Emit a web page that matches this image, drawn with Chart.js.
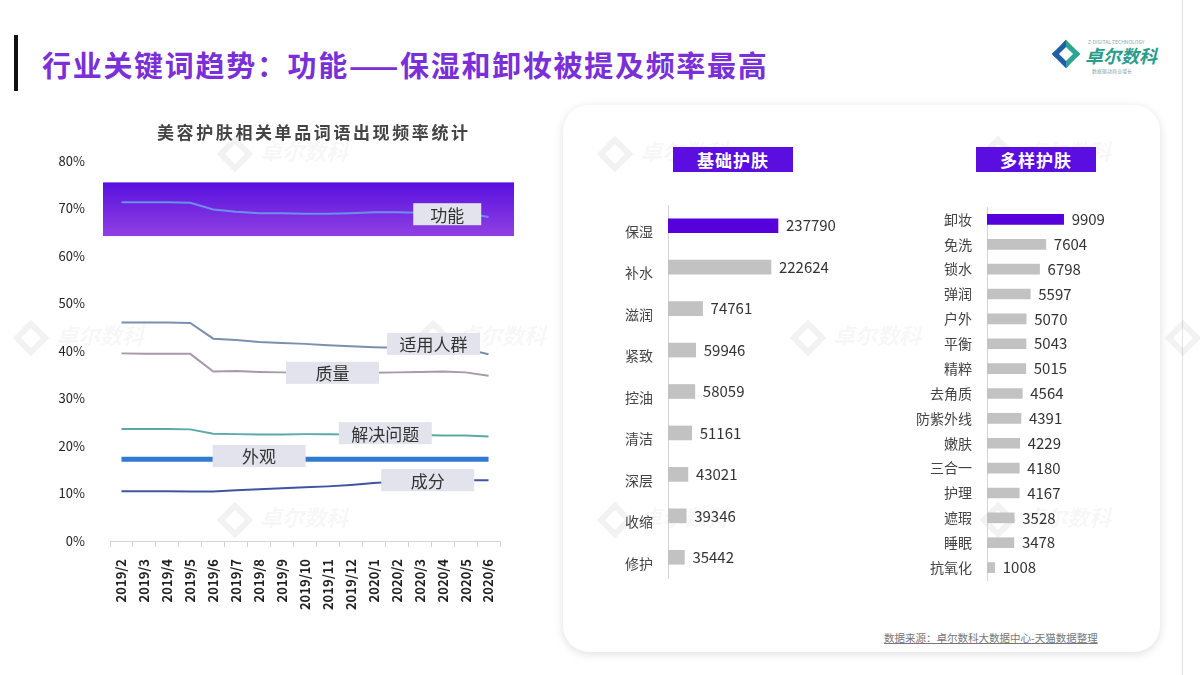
<!DOCTYPE html>
<html>
<head>
<meta charset="utf-8">
<script src="https://cdn.jsdelivr.net/npm/chart.js@4"></script>
<style>
  html, body { margin: 0; padding: 0; background: #fff; }
  body { width: 1200px; height: 675px; position: relative; overflow: hidden;
         font-family: 'Noto Sans CJK SC', sans-serif; }
  .abs { position: absolute; }
  #leftBar { left: 14px; top: 35px; width: 4px; height: 56px; background: #111; }
  #title { left: 42px; top: 44px; font-size: 29px; font-weight: 700; color: #7a2fd8;
           letter-spacing: 1.7px; white-space: nowrap; line-height: 40px; }
  #subTitle { left: 157px; top: 121px; font-size: 17px; font-weight: 700; color: #444;
              letter-spacing: 2.6px; white-space: nowrap; line-height: 22px; z-index: 4; }
  #rightLine { left: 1182px; top: 0; width: 1px; height: 675px; background: #e2e2e2; }
  #card { left: 563px; top: 105px; width: 597px; height: 547px; border-radius: 26px;
          background: #fff; box-shadow: 0 2px 10px rgba(0,0,0,0.13); z-index: 1; }
  .head { width: 120px; height: 25px; background: #5a0fe0; color: #fff; font-size: 17px;
          font-weight: 700; text-align: center; line-height: 25px; z-index: 4; letter-spacing: 1px; }
  .wm { color: rgba(0,0,0,0.055); font-size: 22px; font-weight: 700; font-style: italic;
        z-index: 2; white-space: nowrap; }
  .wm span { display: inline-block; width: 26px; height: 26px; border: 6px solid rgba(0,0,0,0.05);
             transform: rotate(45deg); margin-right: 12px; vertical-align: middle; box-sizing: border-box; }
  #src { left: 884px; top: 630px; font-size: 10.5px; color: #777; text-decoration: underline;
         z-index: 4; white-space: nowrap; }
  #logo { left: 1050px; top: 36px; width: 115px; height: 40px; }
  #logo .txt { position: absolute; left: 35px; top: 8px; font-size: 18px; font-weight: 700;
               font-style: italic; color: #2a9c8c; white-space: nowrap; line-height: 22px; }
  #logo .sm1 { position: absolute; left: 38px; top: 2px; font-size: 5px; color: #8aa; white-space: nowrap; }
  #logo .sm2 { position: absolute; left: 42px; top: 31px; font-size: 5px; color: #8aa; white-space: nowrap; }
  #logo .ic { position: absolute; left: 6px; top: 8px; width: 20px; height: 20px;
              border: 5px solid #1f5fa8; border-right-color: #2aa58f; border-top-color: #2aa58f;
              transform: rotate(45deg); box-sizing: border-box; }
  #c1 { left: 30px; top: 110px; z-index: 3; }
  #c2 { left: 580px; top: 195px; z-index: 3; }
  #c3 { left: 880px; top: 197px; z-index: 3; }
</style>
</head>
<body>
<div id="leftBar" class="abs"></div>
<div id="title" class="abs">行业关键词趋势：功能——保湿和卸妆被提及频率最高</div>
<div id="rightLine" class="abs"></div>
<div id="logo" class="abs"><div class="ic"></div><div class="sm1">Z-DIGITAL TECHNOLOGY</div><div class="txt">卓尔数科</div><div class="sm2">数据驱动商业增长</div></div>
<div id="card" class="abs"></div>

<div class="abs wm" style="left:222px;top:134px"><span></span>卓尔数科</div>
<div class="abs wm" style="left:18px;top:318px"><span></span>卓尔数科</div>
<div class="abs wm" style="left:420px;top:318px"><span></span>卓尔数科</div>
<div class="abs wm" style="left:222px;top:500px"><span></span>卓尔数科</div>
<div class="abs wm" style="left:602px;top:134px"><span></span>卓尔数科</div>
<div class="abs wm" style="left:795px;top:318px"><span></span>卓尔数科</div>
<div class="abs wm" style="left:985px;top:134px"><span></span>卓尔数科</div>
<div class="abs wm" style="left:602px;top:500px"><span></span>卓尔数科</div>
<div class="abs wm" style="left:985px;top:500px"><span></span>卓尔数科</div>
<div class="abs wm" style="left:1170px;top:318px"><span></span>卓尔数科</div>

<div id="subTitle" class="abs">美容护肤相关单品词语出现频率统计</div>
<div class="abs head" style="left:673px;top:147px">基础护肤</div>
<div class="abs head" style="left:976px;top:147px">多样护肤</div>
<div id="src" class="abs">数据来源：卓尔数科大数据中心-天猫数据整理</div>

<canvas id="c1" class="abs" width="530" height="530" style="width:530px;height:530px"></canvas>
<canvas id="c2" class="abs" width="280" height="395" style="width:280px;height:395px"></canvas>
<canvas id="c3" class="abs" width="270" height="395" style="width:270px;height:395px"></canvas>

<script>
// ---- trend data (percent) ----
const months = ['2019/2','2019/3','2019/4','2019/5','2019/6','2019/7','2019/8','2019/9','2019/10',
                '2019/11','2019/12','2020/1','2020/2','2020/3','2020/4','2020/5','2020/6'];
const gongneng  = [71.3,71.3,71.3,71.2,69.8,69.3,69.0,69.0,68.9,68.9,69.0,69.2,69.2,69.1,69.0,69.0,68.2];
const shiyong   = [46.0,46.0,46.0,45.9,42.6,42.3,41.9,41.7,41.5,41.2,41.0,40.8,40.7,40.6,40.5,40.4,39.3];
const zhiliang  = [39.5,39.4,39.4,39.4,35.7,35.8,35.6,35.5,35.5,35.5,35.4,35.4,35.5,35.6,35.7,35.5,34.8];
const jiejue    = [23.6,23.6,23.6,23.5,22.6,22.5,22.4,22.4,22.5,22.5,22.4,22.4,22.3,22.3,22.2,22.2,22.0];
const waiguan   = [17.2,17.2,17.2,17.2,17.2,17.2,17.2,17.2,17.2,17.2,17.2,17.2,17.2,17.2,17.2,17.2,17.2];
const chengfen  = [10.5,10.5,10.5,10.4,10.4,10.7,10.9,11.1,11.3,11.5,11.8,12.2,12.5,12.6,12.7,12.8,12.8];
const yTicks = [0,10,20,30,40,50,60,70,80];

// ---- keyword counts ----
const basicNames  = ['保湿','补水','滋润','紧致','控油','清洁','深层','收缩','修护'];
const basicCounts = [237790,222624,74761,59946,58059,51161,43021,39346,35442];
const multiNames  = ['卸妆','免洗','锁水','弹润','户外','平衡','精粹','去角质','防紫外线','嫩肤','三合一','护理','遮瑕','睡眠','抗氧化'];
const multiCounts = [9909,7604,6798,5597,5070,5043,5015,4564,4391,4229,4180,4167,3528,3478,1008];

// series name tags on the trend chart: [category index, value, box width]
const tagNames = ['功能','适用人群','质量','解决问题','外观','成分'];
const tagAt    = [[14.2,68.8,68],[13.6,41.5,93],[9.2,35.4,93],[11.5,22.7,93],[6.0,17.9,93],[13.35,12.8,93]];

Chart.defaults.font.family = "'Noto Sans CJK SC', sans-serif";
Chart.defaults.color = '#222';

const noEdgePad = s => { s.paddingTop = 0; s.paddingBottom = 0; };

const bandPlugin = {
  id: 'band',
  beforeDatasetsDraw(chart) {
    const { ctx, chartArea, scales } = chart;
    const top = scales.y.getPixelForValue(75.5), bot = scales.y.getPixelForValue(64.2);
    const g = ctx.createLinearGradient(0, top, 0, bot);
    g.addColorStop(0, '#5810de');
    g.addColorStop(1, '#9040e2');
    ctx.save();
    ctx.fillStyle = g;
    ctx.fillRect(chartArea.left - 7, top, chartArea.right - chartArea.left + 21, bot - top);
    ctx.restore();
  }
};

const tagPlugin = {
  id: 'tags',
  afterDatasetsDraw(chart) {
    const { ctx, scales } = chart;
    ctx.save();
    ctx.font = "17px 'Noto Sans CJK SC', sans-serif";
    ctx.textAlign = 'center';
    ctx.textBaseline = 'middle';
    tagNames.forEach((n, i) => {
      const [ix, v, w] = tagAt[i];
      const x = scales.x.getPixelForValue(ix), y = scales.y.getPixelForValue(v);
      ctx.fillStyle = '#e3e3ed';
      ctx.fillRect(x - w / 2, y - 11, w, 22);
      ctx.fillStyle = '#333';
      ctx.fillText(n, x, y + 1);
    });
    ctx.restore();
  }
};

const line = (data, color, w) => ({ data, borderColor: color, borderWidth: w, pointRadius: 0, tension: 0, fill: false });

new Chart(document.getElementById('c1'), {
  type: 'line',
  data: {
    labels: months,
    datasets: [
      line(gongneng, '#6a90ea', 2),
      line(shiyong, '#7b8fae', 2),
      line(zhiliang, '#a898aa', 2),
      line(jiejue, '#5aa9aa', 2),
      line(waiguan, '#2f7bd2', 5),
      line(chengfen, '#3f54a2', 2)
    ]
  },
  options: {
    responsive: false,
    animation: false,
    layout: { padding: { left: 10, right: 60, top: 51, bottom: 9 } },
    plugins: { legend: { display: false }, tooltip: { enabled: false } },
    scales: {
      x: {
        offset: true,
        grid: { offset: true, drawOnChartArea: false, drawTicks: true, tickLength: 6, color: '#d4d4d4' },
        border: { color: '#d4d4d4' },
        ticks: { maxRotation: 90, minRotation: 90, padding: 12, font: { size: 13, weight: 'bold' }, color: '#222', autoSkip: false },
        afterFit(s) { s.height = 90; }
      },
      y: {
        min: 0, max: 80,
        afterBuildTicks(s) { s.ticks = yTicks.map(v => ({ value: v })); },
        grid: { display: false, drawTicks: false },
        border: { display: false },
        ticks: { padding: 25, font: { size: 13 }, color: '#222', callback: v => v + '%' },
        afterFit(s) { s.width = 70; noEdgePad(s); }
      }
    }
  },
  plugins: [bandPlugin, tagPlugin]
});

const valuePlugin = {
  id: 'values',
  afterDatasetsDraw(chart) {
    const { ctx } = chart;
    const meta = chart.getDatasetMeta(0);
    ctx.save();
    ctx.font = "15px 'Noto Sans CJK SC', sans-serif";
    ctx.fillStyle = '#333';
    ctx.textBaseline = 'middle';
    meta.data.forEach((bar, i) => {
      ctx.fillText(String(chart.data.datasets[0].data[i]), bar.x + 8, bar.y);
    });
    ctx.restore();
  }
};

function barChart(id, names, counts, max, thick, yWidth, labelOffset, padRight) {
  return new Chart(document.getElementById(id), {
    type: 'bar',
    data: {
      labels: names,
      datasets: [{
        data: counts,
        backgroundColor: counts.map((v, i) => i === 0 ? '#5600dc' : '#c2c2c2'),
        barThickness: thick,
        borderWidth: 0
      }]
    },
    options: {
      indexAxis: 'y',
      responsive: false,
      animation: false,
      layout: { padding: { top: 10, bottom: 12, left: 0, right: padRight } },
      plugins: { legend: { display: false }, tooltip: { enabled: false } },
      scales: {
        x: { display: false, min: 0, max },
        y: {
          grid: { display: false, drawTicks: false },
          border: { display: true, color: '#d4d4d4' },
          ticks: { padding: 15, labelOffset, font: { size: 14 }, color: '#444', autoSkip: false },
          afterFit(s) { s.width = yWidth; noEdgePad(s); }
        }
      }
    },
    plugins: [valuePlugin]
  });
}

barChart('c2', basicNames, basicCounts, 400000, 14, 88, 6, 7);
barChart('c3', multiNames, multiCounts, 15000, 10, 107, 0, 47);
</script>
</body>
</html>
